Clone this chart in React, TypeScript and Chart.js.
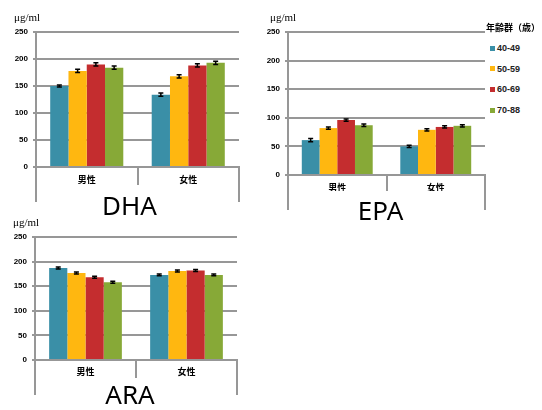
import React, { useEffect, useRef } from 'react';
import { Chart, registerables } from 'chart.js';

Chart.register(...registerables);

// ---- data ----
const categories = ['男性', '女性'];
const ageGroups = ['40-49', '50-59', '60-69', '70-88'];
const seriesColors = ['#3a8fa7', '#ffb710', '#c42d2f', '#87a937'];
const yTicks = [0, 50, 100, 150, 200, 250];
const unitLabel = 'μg/ml';
const legendTitle = '年齢群（歳）';

// values per age group (index = age group)
const dhaMale = [150, 178, 190, 184];
const dhaFemale = [134, 168, 188, 193];
const dhaMaleErr = [2, 3, 3, 3];
const dhaFemaleErr = [3, 3, 3, 3];

const epaMale = [61, 82, 96, 87];
const epaFemale = [50, 79, 84, 86];
const epaMaleErr = [3, 2, 2, 2];
const epaFemaleErr = [2, 2, 2, 2];

const araMale = [187, 177, 168, 158];
const araFemale = [173, 181, 182, 173];
const araMaleErr = [2, 2, 2, 2];
const araFemaleErr = [2, 2, 2, 2];

const GRAY = '#979797';

const errorBarPlugin = {
  id: 'errorBars',
  afterDatasetsDraw(chart: any) {
    const { ctx } = chart;
    const y = chart.scales.y;
    chart.data.datasets.forEach((ds: any, di: number) => {
      const meta = chart.getDatasetMeta(di);
      meta.data.forEach((bar: any, i: number) => {
        const v = ds.data[i];
        const e = ds.errors[i];
        const top = y.getPixelForValue(v + e);
        const bot = y.getPixelForValue(v - e);
        ctx.save();
        ctx.strokeStyle = '#000';
        ctx.lineWidth = 1.5;
        ctx.beginPath();
        ctx.moveTo(bar.x, top);
        ctx.lineTo(bar.x, bot);
        ctx.moveTo(bar.x - 2.5, top);
        ctx.lineTo(bar.x + 2.5, top);
        ctx.moveTo(bar.x - 2.5, bot);
        ctx.lineTo(bar.x + 2.5, bot);
        ctx.stroke();
        ctx.restore();
      });
    });
  },
};

type Geo = {
  left: number; top: number; w: number; h: number;
  yWidth: number; padRight: number; padTop: number;
  inner: number; outer: number; outerBox: number; innerPad: number; outerPad: number; titleOffset: number;
};

function makeConfig(title: string, male: number[], female: number[], maleErr: number[], femaleErr: number[], g: Geo): any {
  return {
    type: 'bar',
    data: {
      labels: categories,
      datasets: ageGroups.map((name, i) => ({
        label: name,
        data: [male[i], female[i]],
        errors: [maleErr[i], femaleErr[i]],
        backgroundColor: seriesColors[i],
        borderWidth: 0,
        categoryPercentage: 0.72,
        barPercentage: 1,
        xAxisID: 'x',
      })),
    },
    options: {
      responsive: false,
      animation: false,
      events: [],
      layout: { padding: { left: 0, right: g.padRight, top: g.padTop, bottom: 0 } },
      plugins: { legend: { display: false }, tooltip: { enabled: false }, title: { display: false } },
      scales: {
        x: {
          type: 'category',
          position: 'bottom',
          offset: true,
          grid: { offset: true, drawOnChartArea: false, tickLength: g.inner, color: GRAY, lineWidth: 2 },
          border: { display: true, color: GRAY, width: 2 },
          ticks: {
            padding: g.innerPad,
            color: '#000',
            maxRotation: 0,
            font: { family: '"Noto Sans CJK JP", sans-serif', size: 9, weight: 'bold' },
          },
          afterFit: (s: any) => { s.height = g.inner; },
        },
        x2: {
          type: 'category',
          position: 'bottom',
          labels: [title],
          offset: true,
          grid: { offset: true, drawOnChartArea: false, tickLength: g.outer, color: GRAY, lineWidth: 2 },
          border: { display: false },
          ticks: {
            padding: g.outerPad,
            labelOffset: g.titleOffset,
            color: '#000',
            maxRotation: 0,
            font: { family: '"Noto Sans", sans-serif', size: 26 },
          },
          afterFit: (s: any) => { s.height = g.outerBox; },
        },
        y: {
          min: 0,
          max: 250,
          afterBuildTicks: (s: any) => { s.ticks = yTicks.map((v) => ({ value: v })); },
          grid: { color: GRAY, lineWidth: 2, tickLength: 3 },
          border: { display: true, color: GRAY, width: 2 },
          ticks: {
            padding: 5,
            color: '#000',
            font: { family: '"Liberation Sans", Arial, sans-serif', size: 8, weight: 'bold' },
          },
          afterFit: (s: any) => { s.width = g.yWidth; },
        },
      },
    },
    plugins: [errorBarPlugin],
  };
}

// chart area: DHA 36..239 x 32..167 ; EPA 288..485 x 32..175 ; ARA 35..237 x 237..360
const dhaGeo: Geo = { left: 0, top: 0, w: 250, h: 225, yWidth: 36, padRight: 11, padTop: 32, inner: 18, outer: 17, outerBox: 40, innerPad: -11, outerPad: -10, titleOffset: -8 };
const epaGeo: Geo = { left: 250, top: 0, w: 240, h: 240, yWidth: 38, padRight: 5, padTop: 32, inner: 16, outer: 19, outerBox: 49, innerPad: -9, outerPad: -13, titleOffset: -6 };
const araGeo: Geo = { left: 0, top: 210, w: 250, h: 200, yWidth: 35, padRight: 13, padTop: 27, inner: 18, outer: 17, outerBox: 32, innerPad: -12, outerPad: -14, titleOffset: -6 };

function BarPanel(props: { title: string; male: number[]; female: number[]; maleErr: number[]; femaleErr: number[]; geo: Geo }) {
  const ref = useRef<HTMLCanvasElement | null>(null);
  useEffect(() => {
    if (!ref.current) return;
    const chart = new Chart(ref.current, makeConfig(props.title, props.male, props.female, props.maleErr, props.femaleErr, props.geo));
    return () => chart.destroy();
  }, []);
  const g = props.geo;
  return (
    <canvas
      ref={ref}
      width={g.w}
      height={g.h}
      style={{ position: 'absolute', left: g.left, top: g.top, width: g.w, height: g.h }}
    />
  );
}

const unitPositions = [
  { left: 14, top: 11 },
  { left: 270, top: 11 },
  { left: 13, top: 216 },
];

const legendRows = [48, 68.5, 89, 110];

export default function App() {
  return (
    <div style={{ position: 'absolute', left: 0, top: 0, width: 542, height: 410, background: '#fff', overflow: 'hidden' }}>
      <BarPanel title="DHA" male={dhaMale} female={dhaFemale} maleErr={dhaMaleErr} femaleErr={dhaFemaleErr} geo={dhaGeo} />
      <BarPanel title="EPA" male={epaMale} female={epaFemale} maleErr={epaMaleErr} femaleErr={epaFemaleErr} geo={epaGeo} />
      <BarPanel title="ARA" male={araMale} female={araFemale} maleErr={araMaleErr} femaleErr={araFemaleErr} geo={araGeo} />
      {unitPositions.map((p, i) => (
        <div key={i} style={{ position: 'absolute', left: p.left, top: p.top, font: '11px "Liberation Serif", serif', lineHeight: '12px', color: '#000', whiteSpace: 'nowrap' }}>
          {unitLabel}
        </div>
      ))}
      <div style={{ position: 'absolute', left: 486, top: 22, font: 'bold 9px "Noto Sans CJK JP", sans-serif', lineHeight: '11px', color: '#000', whiteSpace: 'nowrap', background: '#fff' }}>
        {legendTitle}
      </div>
      {ageGroups.map((name, i) => (
        <div key={name} style={{ position: 'absolute', left: 490, top: legendRows[i] - 6, height: 12, display: 'flex', alignItems: 'center', whiteSpace: 'nowrap' }}>
          <span style={{ display: 'inline-block', width: 5, height: 5, background: seriesColors[i], marginRight: 2 }} />
          <span style={{ font: 'bold 9px "Liberation Sans", Arial, sans-serif', color: '#222' }}>{name}</span>
        </div>
      ))}
    </div>
  );
}
